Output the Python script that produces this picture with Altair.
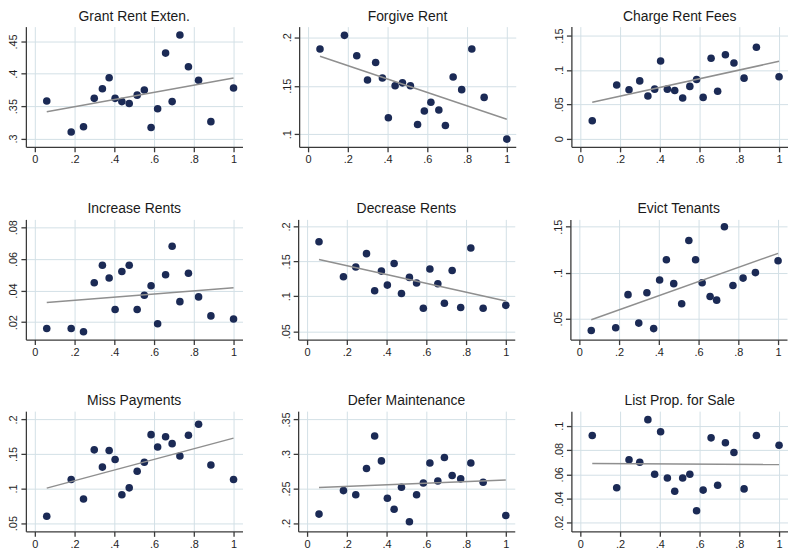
import altair as alt
import pandas as pd

# Shared x values (share, 0..1)
x_vals = [0.06, 0.183, 0.245, 0.299, 0.340, 0.374, 0.404, 0.438, 0.475, 0.515,
          0.551, 0.585, 0.618, 0.658, 0.691, 0.730, 0.773, 0.824, 0.886, 1.0]

titles = ["Grant Rent Exten.", "Forgive Rent", "Charge Rent Fees",
          "Increase Rents", "Decrease Rents", "Evict Tenants",
          "Miss Payments", "Defer Maintenance", "List Prop. for Sale"]

grant_rent_exten = [0.358, 0.310, 0.318, 0.362, 0.377, 0.394, 0.362, 0.357, 0.354, 0.367,
                    0.375, 0.317, 0.346, 0.432, 0.357, 0.460, 0.411, 0.390, 0.326, 0.378]
forgive_rent = [0.188, 0.202, 0.181, 0.156, 0.174, 0.158, 0.117, 0.150, 0.153, 0.150,
                0.110, 0.124, 0.133, 0.125, 0.109, 0.159, 0.146, 0.188, 0.138, 0.095]
charge_rent_fees = [0.026, 0.078, 0.071, 0.084, 0.062, 0.072, 0.113, 0.072, 0.070, 0.059,
                    0.076, 0.086, 0.060, 0.117, 0.069, 0.122, 0.110, 0.088, 0.133, 0.090]
increase_rents = [0.016, 0.016, 0.014, 0.045, 0.056, 0.048, 0.028, 0.052, 0.056, 0.028,
                  0.037, 0.043, 0.019, 0.050, 0.068, 0.033, 0.051, 0.036, 0.024, 0.022]
decrease_rents = [0.178, 0.128, 0.142, 0.161, 0.108, 0.136, 0.116, 0.147, 0.104, 0.127,
                  0.119, 0.083, 0.139, 0.118, 0.090, 0.137, 0.084, 0.169, 0.083, 0.087]
evict_tenants = [0.037, 0.040, 0.076, 0.045, 0.078, 0.039, 0.092, 0.114, 0.088, 0.066,
                 0.135, 0.114, 0.089, 0.074, 0.070, 0.150, 0.086, 0.094, 0.100, 0.113]
miss_payments = [0.060, 0.113, 0.085, 0.156, 0.131, 0.155, 0.142, 0.091, 0.101, 0.125,
                 0.138, 0.178, 0.160, 0.175, 0.165, 0.147, 0.177, 0.193, 0.134, 0.113]
defer_maintenance = [0.213, 0.247, 0.241, 0.279, 0.326, 0.290, 0.236, 0.220, 0.252, 0.202,
                     0.241, 0.258, 0.287, 0.261, 0.295, 0.269, 0.264, 0.287, 0.259, 0.211]
list_prop_for_sale = [0.092, 0.049, 0.072, 0.070, 0.105, 0.060, 0.095, 0.057, 0.046, 0.057,
                      0.060, 0.030, 0.047, 0.090, 0.051, 0.086, 0.078, 0.048, 0.092, 0.084]

series = [grant_rent_exten, forgive_rent, charge_rent_fees,
          increase_rents, decrease_rents, evict_tenants,
          miss_payments, defer_maintenance, list_prop_for_sale]

x_ticks = [0, 0.2, 0.4, 0.6, 0.8, 1]
y_ticks = [
    [0.3, 0.35, 0.4, 0.45],
    [0.1, 0.15, 0.2],
    [0, 0.05, 0.1, 0.15],
    [0.02, 0.04, 0.06, 0.08],
    [0.05, 0.1, 0.15, 0.2],
    [0.05, 0.1, 0.15],
    [0.05, 0.1, 0.15, 0.2],
    [0.2, 0.25, 0.3, 0.35],
    [0.02, 0.04, 0.06, 0.08, 0.1],
]
y_domains = [
    [0.287, 0.473], [0.087, 0.211], [-0.012, 0.163],
    [0.009, 0.085], [0.038, 0.21], [0.027, 0.158],
    [0.038, 0.212], [0.188, 0.362], [0.013, 0.112],
]

rows = []
for t, ys in zip(titles, series):
    for xv, yv in zip(x_vals, ys):
        rows.append({"panel": t, "x": xv, "y": yv})
df = pd.DataFrame(rows)

label_expr = "replace(format(datum.value, '~g'), '0.', '.')"
FONT = "Liberation Sans"
W, H = 218, 121
GRID = "#d3e0e6"


def panel(i):
    t = titles[i]
    base = alt.Chart(df).transform_filter(alt.datum.panel == t)
    xscale = alt.Scale(domain=[-0.045, 1.045], nice=False, zero=False)
    yscale = alt.Scale(domain=y_domains[i], nice=False, zero=False)

    def xenc():
        return alt.X("x:Q", scale=xscale,
                     axis=alt.Axis(values=x_ticks, title=None, labelExpr=label_expr,
                                   labelOverlap=False, labelFlush=False,
                                   grid=True, gridColor=GRID))

    def yenc():
        return alt.Y("y:Q", scale=yscale,
                     axis=alt.Axis(values=y_ticks[i], title=None, labelExpr=label_expr,
                                   labelAngle=270, labelAlign="center", labelBaseline="bottom",
                                   labelOverlap=False, labelFlush=False,
                                   grid=True, gridColor=GRID))

    pts = base.mark_circle(size=58, color="#1b2a55", opacity=1).encode(x=xenc(), y=yenc())
    line = base.transform_regression("x", "y").mark_line(
        color="#8f8f8f", strokeWidth=1.5).encode(x=xenc(), y=yenc())
    return alt.layer(pts, line).properties(
        width=W, height=H,
        title=alt.TitleParams(t, fontSize=14, font=FONT, fontWeight="normal",
                              color="#1a1a1a", offset=3))


rows_charts = []
for r in range(3):
    rows_charts.append(alt.hconcat(*[panel(r * 3 + c) for c in range(3)], spacing=38))

chart = alt.vconcat(*rows_charts, spacing=37).properties(
    padding={"left": 0, "top": 0, "right": 0, "bottom": 0},
    background="white",
).configure_view(stroke=None).configure_axis(
    grid=True, gridColor=GRID, gridWidth=1, gridOpacity=1,
    domainColor="#3a3a3a", domainWidth=1.3,
    tickColor="#3a3a3a", tickSize=5, tickWidth=1.3,
    labelOverlap=False,
    labelFont=FONT, labelFontSize=11, labelColor="#1e1e1e", labelPadding=2,
)

chart.save("out.html", embed_options={"renderer": "svg", "actions": False})
